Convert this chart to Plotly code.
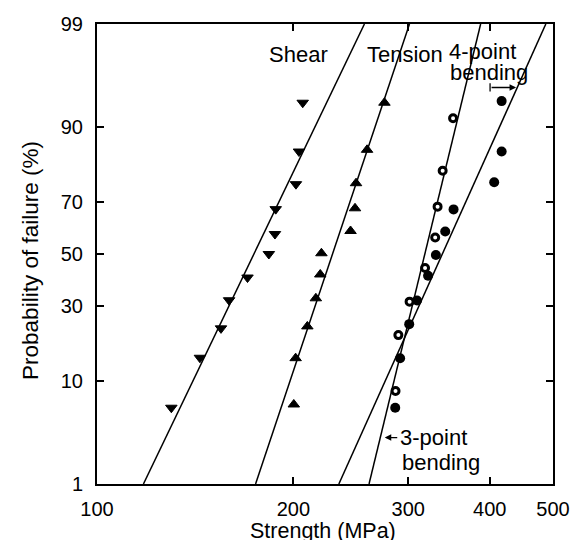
import plotly.graph_objects as go
from statistics import NormalDist
import math

# ---- data ----
prob_ticks = [1, 10, 30, 50, 70, 90, 99]
strength_ticks = [100, 200, 300, 400, 500]

shear_strength = [206.7, 204.0, 201.8, 187.9, 187.4, 183.4, 170.1, 159.4, 154.9, 143.8, 130.0]
shear_prob = [93.7, 85.0, 76.0, 67.5, 58.0, 50.0, 40.6, 32.0, 22.6, 14.7, 6.0]

tension_strength = [275.8, 259.4, 249.5, 248.6, 244.7, 220.8, 219.9, 216.5, 210.1, 201.6, 200.3]
tension_prob = [93.7, 85.4, 76.3, 67.8, 59.2, 50.3, 41.8, 32.7, 23.2, 14.6, 6.4]

bend4_strength = [417.1, 417.1, 406.3, 352.0, 341.8, 330.7, 321.7, 309.4, 301.0, 291.5, 286.5]
bend4_prob = [93.9, 85.0, 76.6, 67.4, 59.0, 49.6, 41.3, 31.9, 23.9, 14.6, 6.0]

bend3_strength = [351.4, 338.7, 332.7, 329.9, 318.3, 301.4, 289.7, 286.8]
bend3_prob = [91.5, 80.0, 68.4, 56.6, 44.4, 31.5, 20.6, 8.3]

# fitted lines: strength at 1 % and 99 %
line_prob = [1, 99]
shear_line = [117.8, 257.0]
tension_line = [175.0, 301.3]
bend3_line = [261.2, 387.3]
bend4_line = [234.8, 487.5]

nd = NormalDist()
def probit(p_list):
    return [nd.inv_cdf(p / 100.0) for p in p_list]

FONT = "Liberation Sans, Arial, Helvetica, sans-serif"

fig = go.Figure()

for xs in (shear_line, tension_line, bend3_line, bend4_line):
    fig.add_trace(go.Scatter(x=xs, y=probit(line_prob), mode="lines",
                             line=dict(color="black", width=1.5),
                             showlegend=False, hoverinfo="skip"))

fig.add_trace(go.Scatter(x=shear_strength, y=probit(shear_prob), mode="markers",
                         marker=dict(symbol="triangle-down", size=10, color="black",
                                     line=dict(color="black", width=1)),
                         name="Shear", showlegend=False))
fig.add_trace(go.Scatter(x=tension_strength, y=probit(tension_prob), mode="markers",
                         marker=dict(symbol="triangle-up", size=10, color="black",
                                     line=dict(color="black", width=1)),
                         name="Tension", showlegend=False))
fig.add_trace(go.Scatter(x=bend4_strength, y=probit(bend4_prob), mode="markers",
                         marker=dict(symbol="circle", size=10, color="black"),
                         name="4-point bending", showlegend=False))
fig.add_trace(go.Scatter(x=bend3_strength, y=probit(bend3_prob), mode="markers",
                         marker=dict(symbol="circle", size=7, color="white",
                                     line=dict(color="black", width=3)),
                         name="3-point bending", showlegend=False))

ylo, yhi = probit([1, 99])

fig.update_xaxes(type="log", range=[2, math.log10(500)],
                 tickvals=strength_ticks, ticktext=[str(v) for v in strength_ticks],
                 ticks="inside", ticklen=7, tickwidth=1.5, tickcolor="black",
                 showline=True, linecolor="black", linewidth=2, mirror="ticks",
                 showgrid=False, zeroline=False, automargin=False,
                 tickfont=dict(family=FONT, size=20, color="black"),
                 ticklabelstandoff=6)
fig.update_yaxes(range=[ylo, yhi],
                 tickvals=probit(prob_ticks), ticktext=[str(v) for v in prob_ticks],
                 ticks="inside", ticklen=7, tickwidth=1.5, tickcolor="black",
                 showline=True, linecolor="black", linewidth=2, mirror="ticks",
                 showgrid=False, zeroline=False, automargin=False,
                 tickfont=dict(family=FONT, size=20, color="black"),
                 ticklabelstandoff=8)

def ann(text, x, y, xanchor="center", size=22, angle=0):
    fig.add_annotation(text=text, x=x, y=y, xref="paper", yref="paper",
                       xanchor=xanchor, yanchor="middle", showarrow=False,
                       textangle=angle,
                       font=dict(family=FONT, size=size, color="black"))

ann("Shear", 0.441, 0.934)
ann("Tension", 0.675, 0.934)
ann("4-point", 0.7675, 0.940, xanchor="left")
ann("bending", 0.770, 0.895, xanchor="left")
ann("3-point", 0.660, 0.101, xanchor="left")
ann("bending", 0.6645, 0.047, xanchor="left")
ann("Strength (MPa)", 0.4967, -0.1015, size=21.5)
ann("Probability of failure (%)", -0.1447, 0.485, size=22.5, angle=-90)

# arrows for the bending labels
fig.add_annotation(x=0.631, y=0.101, xref="paper", yref="paper", text="",
                   showarrow=True, ax=14, ay=0, arrowhead=2, arrowsize=1,
                   arrowwidth=1.3, arrowcolor="black")
fig.add_annotation(x=0.919, y=0.862, xref="paper", yref="paper", text="",
                   showarrow=True, ax=-26, ay=0, arrowhead=2, arrowsize=1,
                   arrowwidth=1.3, arrowcolor="black")
fig.add_shape(type="line", xref="paper", yref="paper", x0=0.862, x1=0.862,
              y0=0.853, y1=0.871, line=dict(color="black", width=1.3))

fig.update_layout(width=579, height=540,
                  margin=dict(l=89, r=34, t=16, b=64),
                  plot_bgcolor="white", paper_bgcolor="white",
                  font=dict(family=FONT, color="black"))

fig.write_html("out.html")
